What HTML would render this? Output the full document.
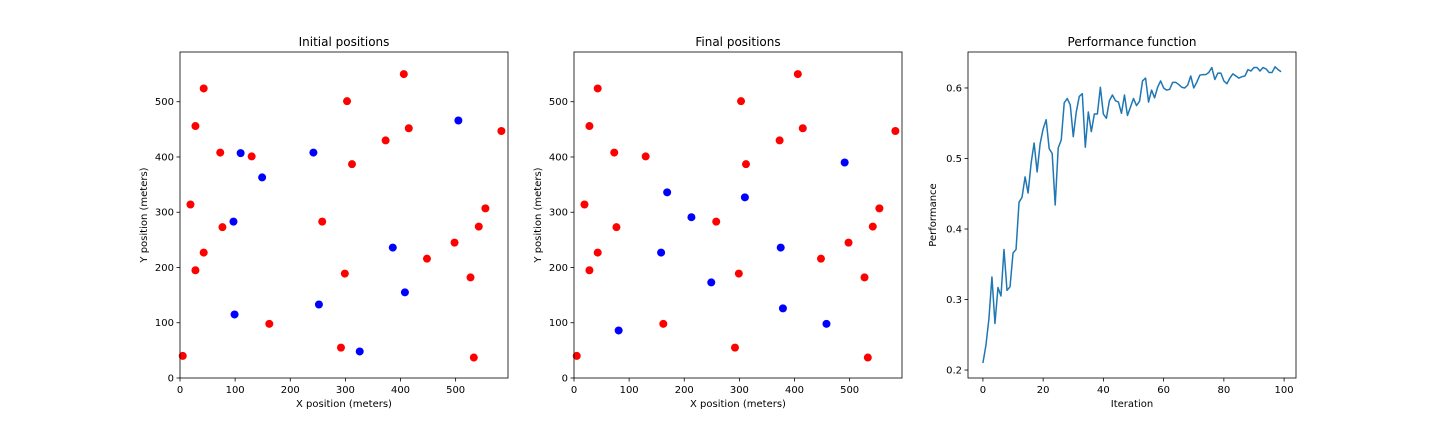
<!DOCTYPE html>
<html><head><meta charset="utf-8"><style>
html,body{margin:0;padding:0;background:#fff;}
svg{display:block;font-family:"DejaVu Sans","Liberation Sans",sans-serif;}
</style></head><body>
<svg id="fig" width="1440" height="432" viewBox="0 0 1440 432"></svg>
<script>
const redX=[43,28,73,130,19,77,43,28,5,162,258,299,292,303,406,415,373,312,583,554,542,498,448,527,533];
const redY=[524,456,408,401,314,273,227,195,40,98,283,189,55,501,550,452,430,387,447,307,274,245,216,182,37];
const blueInitX=[110,149,242,97,99,252,326,386,408,505];
const blueInitY=[407,363,408,283,115,133,48,236,155,466];
const blueFinalX=[169,213,310,158,81,249,375,379,458,491];
const blueFinalY=[336,291,327,227,86,173,236,126,98,390];
const perf=[0.21,0.235,0.273,0.332,0.266,0.317,0.305,0.371,0.313,0.318,0.366,0.371,0.438,0.445,0.474,0.451,0.493,0.522,0.481,0.521,0.542,0.555,0.514,0.507,0.434,0.515,0.526,0.579,0.585,0.576,0.531,0.566,0.588,0.592,0.516,0.566,0.538,0.563,0.563,0.601,0.563,0.557,0.582,0.59,0.582,0.58,
0.564,0.590,0.561,0.573,0.585,0.575,0.581,0.610,0.614,0.580,0.597,0.586,0.601,0.610,0.600,0.597,0.598,0.608,0.608,0.605,0.601,0.600,0.604,0.617,0.600,0.608,0.618,0.619,0.619,0.622,0.629,0.612,0.621,0.621,0.610,0.606,0.614,0.620,0.617,0.614,0.616,0.617,0.626,0.624,0.629,0.629,0.624,0.629,0.627,0.622,0.622,0.630,0.626,0.623];
const posTicks=[0,100,200,300,400,500];
const perfXTicks=[0,20,40,60,80,100];
const perfYTicks=[0.2,0.3,0.4,0.5,0.6];

const NS="http://www.w3.org/2000/svg";
const fig=document.getElementById('fig');
function mk(tag,attrs,parent){const e=document.createElementNS(NS,tag);for(const k in attrs)e.setAttribute(k,attrs[k]);(parent||fig).appendChild(e);return e;}
const yTop=52,yBot=378;
function axes(x0,x1,xmin,xmax,ymin,ymax,title,xlabel,ylabel,xt,yt,fmtY,key){
  const g=mk('g',{});
  
  
  const sx=v=>x0+(v-xmin)/(xmax-xmin)*(x1-x0);
  const sy=v=>yBot-(v-ymin)/(ymax-ymin)*(yBot-yTop);
  xt.forEach(t=>{const x=sx(t);
    mk('line',{x1:x,x2:x,y1:yBot,y2:yBot+3.5,stroke:'#000','stroke-width':0.8},g);
    const tx=mk('text',{x:x,y:yBot+15,'font-size':10,'text-anchor':'middle'},g);tx.textContent=t;
    
    });
  yt.forEach(t=>{const y=sy(t);
    mk('line',{x1:x0-3.5,x2:x0,y1:y,y2:y,stroke:'#000','stroke-width':0.8},g);
    const tx=mk('text',{x:x0-6,y:y+3.5,'font-size':10,'text-anchor':'end'},g);tx.textContent=fmtY(t);
    
    });
  const tt=mk('text',{x:(x0+x1)/2,y:46,'font-size':12,'text-anchor':'middle'},g);tt.textContent=title;
  
  
  const xl=mk('text',{x:(x0+x1)/2,y:407,'font-size':10,'text-anchor':'middle'},g);xl.textContent=xlabel;
  
  
  const cy=(yTop+yBot)/2,lx=x0-(fmtY===String?33:32);
  const yl=mk('text',{x:lx,y:cy,'font-size':10,'text-anchor':'middle',transform:`rotate(-90 ${lx} ${cy})`},g);yl.textContent=ylabel;
  
  
  return {g,sx,sy,frame:()=>mk('rect',{x:x0,y:yTop,width:x1-x0,height:yBot-yTop,fill:'none',stroke:'#000','stroke-width':0.8},g)};
}
function scatter(ax,xs,ys,color,name){
  xs.forEach((v,i)=>{const c=mk('circle',{cx:ax.sx(v),cy:ax.sy(ys[i]),r:4,fill:color},ax.g);
    
    });
}
const a1=axes(180,508,0,595,0,590,'Initial positions','X position (meters)','Y position (meters)',posTicks,posTicks,String,'initial');
scatter(a1,redX,redY,'#ff0000','red-point');scatter(a1,blueInitX,blueInitY,'#0000ff','blue-point');a1.frame();
const a2=axes(574,902,0,595,0,590,'Final positions','X position (meters)','Y position (meters)',posTicks,posTicks,String,'final');
scatter(a2,redX,redY,'#ff0000','red-point');scatter(a2,blueFinalX,blueFinalY,'#0000ff','blue-point');a2.frame();
const a3=axes(968,1296,-4.95,103.95,0.1887,0.651,'Performance function','Iteration','Performance',perfXTicks,perfYTicks,v=>v.toFixed(1),'performance');
const pts=perf.map((v,i)=>a3.sx(i).toFixed(2)+','+a3.sy(v).toFixed(2)).join(' ');
const pl=mk('polyline',{points:pts,fill:'none',stroke:'#1f77b4','stroke-width':1.5,'stroke-linejoin':'round'},a3.g);


a3.frame();
</script>
</body></html>
